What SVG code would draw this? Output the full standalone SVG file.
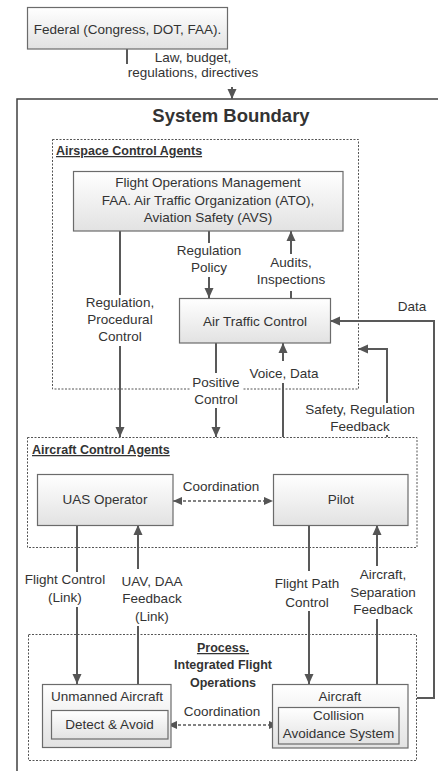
<svg xmlns="http://www.w3.org/2000/svg" width="438" height="771" viewBox="0 0 438 771">
<style>
text{font-family:"Liberation Sans",Arial,sans-serif;font-size:13.5px;fill:#333;text-anchor:middle}
.b{font-weight:bold}
.u{text-decoration:underline}
.l{text-anchor:start}
.box{fill:url(#g);stroke:#6b6b6b;stroke-width:1.2}
.grp{fill:none;stroke:#555;stroke-width:1;stroke-dasharray:2 1.5}
.c{fill:none;stroke:#595959;stroke-width:2}
.d{fill:none;stroke:#595959;stroke-width:1.6;stroke-dasharray:3 2}
.bg{fill:#fff}
</style>
<defs>
<linearGradient id="g" x1="0" y1="0" x2="0" y2="1">
<stop offset="0" stop-color="#ffffff"/>
<stop offset="1" stop-color="#e2e2e2"/>
</linearGradient>
<marker id="ah" viewBox="0 0 10 10" refX="10" refY="5" markerWidth="10" markerHeight="10" markerUnits="userSpaceOnUse" orient="auto-start-reverse">
<path d="M0,0.5 L10,5 L0,9.5 z" fill="#555"/>
</marker>
<marker id="ahs" viewBox="0 0 10 10" refX="10" refY="5" markerWidth="9" markerHeight="9" markerUnits="userSpaceOnUse" orient="auto-start-reverse">
<path d="M0,0.5 L10,5 L0,9.5 z" fill="#555"/>
</marker>
</defs>
<rect width="438" height="771" fill="#fff"/>

<g id="system-boundary">
<rect x="17" y="99" width="440" height="700" fill="none" stroke="#404040" stroke-width="1.5"/>
<text class="b" x="231" y="122" style="font-size:18.5px">System Boundary</text>
</g>

<g id="airspace-control-agents">
<rect class="grp" x="52.5" y="139.5" width="306" height="249.5"/>
<text class="b u l" x="56" y="155" style="font-size:12.5px">Airspace Control Agents</text>
</g>
<g id="aircraft-control-agents">
<rect class="grp" x="27.5" y="437.5" width="389.5" height="110"/>
<text class="b u l" x="32" y="454" style="font-size:12.5px">Aircraft Control Agents</text>
</g>
<g id="process">
<rect class="grp" x="28.5" y="634.5" width="388" height="126"/>
<text class="b u" x="223" y="652" style="font-size:12.5px">Process.</text>
<text class="b" x="223" y="669" style="font-size:12.5px">Integrated Flight</text>
<text class="b" x="223" y="687" style="font-size:12.5px">Operations</text>
</g>

<g id="connectors">
<path class="c" d="M127,49 V65 H232 V99" marker-end="url(#ah)"/>
<rect class="bg" x="126" y="64" width="136" height="23"/>
<text x="193" y="61.5">Law, budget,</text>
<text x="193" y="77">regulations, directives</text>

<path class="c" d="M120,231 V437" marker-end="url(#ah)"/>
<rect class="bg" x="84" y="295" width="72" height="51"/>
<text x="120" y="307">Regulation,</text>
<text x="120" y="324">Procedural</text>
<text x="120" y="341">Control</text>

<path class="c" d="M209,231 V298" marker-end="url(#ah)"/>
<rect class="bg" x="174" y="243" width="70" height="34"/>
<text x="209" y="255">Regulation</text>
<text x="209" y="272">Policy</text>

<path class="c" d="M291,298 V231" marker-end="url(#ah)"/>
<rect class="bg" x="254" y="254" width="75" height="37"/>
<text x="291" y="267">Audits,</text>
<text x="291" y="284">Inspections</text>

<path class="c" d="M216,343 V437" marker-end="url(#ah)"/>
<rect class="bg" x="190" y="373" width="52" height="35"/>
<text x="216" y="387">Positive</text>
<text x="216" y="404">Control</text>

<path class="c" d="M283,437 V343" marker-end="url(#ah)"/>
<rect class="bg" x="248" y="361" width="73" height="22"/>
<text x="284" y="378">Voice, Data</text>

<path class="c" d="M387,437 V349 H358" marker-end="url(#ah)"/>
<rect class="bg" x="304" y="403" width="113" height="32"/>
<text x="360" y="414">Safety, Regulation</text>
<text x="360" y="431">Feedback</text>

<path class="c" d="M417,698 H434 V321 H330" marker-end="url(#ah)"/>
<text x="412" y="311">Data</text>

<path class="d" d="M173,501 H273" marker-start="url(#ahs)" marker-end="url(#ahs)"/>
<text x="221" y="491">Coordination</text>

<path class="c" d="M77,525 V684" marker-end="url(#ah)"/>
<rect class="bg" x="23" y="572" width="85" height="35"/>
<text x="65" y="584">Flight Control</text>
<text x="65" y="602">(Link)</text>

<path class="c" d="M138,685 V525" marker-end="url(#ah)"/>
<rect class="bg" x="119" y="569" width="66" height="57"/>
<text x="152" y="586">UAV, DAA</text>
<text x="152" y="603">Feedback</text>
<text x="152" y="621">(Link)</text>

<path class="c" d="M309,525 V684" marker-end="url(#ah)"/>
<rect class="bg" x="271" y="571" width="73" height="40"/>
<text x="307" y="588">Flight Path</text>
<text x="307" y="607">Control</text>

<path class="c" d="M377,684 V525" marker-end="url(#ah)"/>
<rect class="bg" x="347" y="566" width="72" height="53"/>
<text x="383" y="579">Aircraft,</text>
<text x="383" y="597">Separation</text>
<text x="383" y="614">Feedback</text>

<path class="d" d="M168,725 H278" marker-start="url(#ahs)" marker-end="url(#ahs)"/>
<text x="222" y="716">Coordination</text>
</g>

<g id="federal">
<rect class="box" x="27.5" y="7.5" width="200" height="41.5"/>
<text x="127.5" y="34">Federal (Congress, DOT, FAA).</text>
</g>
<g id="flight-operations-management">
<rect class="box" x="73.5" y="171.5" width="269.5" height="59.5"/>
<text x="208" y="187">Flight Operations Management</text>
<text x="208" y="205">FAA. Air Traffic Organization (ATO),</text>
<text x="208" y="222">Aviation Safety (AVS)</text>
</g>
<g id="air-traffic-control">
<rect class="box" x="179.5" y="298.5" width="151" height="44.5"/>
<text x="255" y="326">Air Traffic Control</text>
</g>
<g id="uas-operator">
<rect class="box" x="37.5" y="474.5" width="135.5" height="51"/>
<text x="105" y="504">UAS Operator</text>
</g>
<g id="pilot">
<rect class="box" x="273.5" y="474.5" width="134.5" height="51"/>
<text x="341" y="504">Pilot</text>
</g>
<g id="unmanned-aircraft">
<rect class="box" x="42.5" y="684.5" width="128.5" height="63"/>
<text x="107" y="701">Unmanned Aircraft</text>
<g id="detect-avoid">
<rect class="box" x="51.5" y="710.5" width="116.5" height="28.5"/>
<text x="109.5" y="729">Detect &amp; Avoid</text>
</g>
</g>
<g id="aircraft">
<rect class="box" x="272.5" y="684.5" width="135.5" height="63.5"/>
<text x="340" y="701">Aircraft</text>
<g id="collision-avoidance-system">
<rect class="box" x="278.5" y="707.5" width="120.5" height="36.5"/>
<text x="338.5" y="720">Collision</text>
<text x="338.5" y="738">Avoidance System</text>
</g>
</g>
</svg>
